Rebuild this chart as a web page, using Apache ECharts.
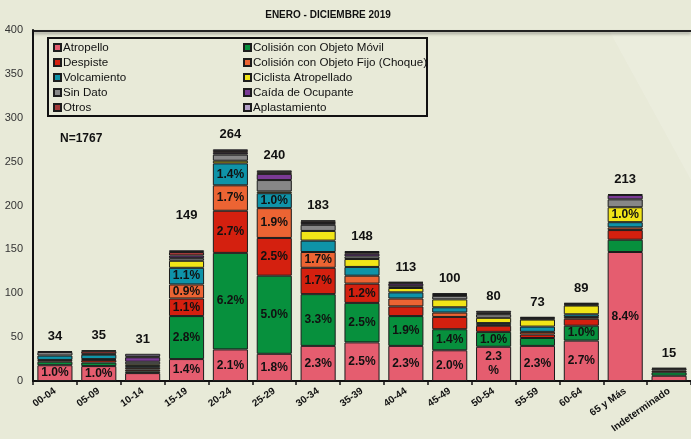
<!DOCTYPE html>
<html>
<head>
<meta charset="utf-8">
<script src="https://cdn.jsdelivr.net/npm/echarts@6/dist/echarts.min.js"></script>
<style>
  html, body { margin: 0; padding: 0; background: #e8ead8; }
  #chart { width: 691px; height: 439px; }
</style>
</head>
<body>
<div id="chart"></div>
<script>
// Accidentes por grupo de edad, enero - diciembre 2019 (N=1767)
const categorias = ['00-04', '05-09', '10-14', '15-19', '20-24', '25-29', '30-34', '35-39',
  '40-44', '45-49', '50-54', '55-59', '60-64', '65 y Más', 'Indeterminado'];

const atropello     = [18, 17, 9, 25, 36, 31, 40, 44, 40, 35, 39, 40, 46, 147, 6];
const colMovil      = [4, 4, 2, 49, 110, 89, 59, 45, 34, 24, 17, 9, 17, 14, 4];
const despiste      = [2, 3, 2, 20, 48, 43, 30, 22, 11, 14, 7, 4, 8, 11, 2];
const colFijo       = [0, 1, 2, 16, 29, 34, 18, 9, 9, 5, 1, 3, 2, 3, 0];
const volcamiento   = [5, 5, 2, 19, 25, 17, 13, 10, 7, 6, 2, 6, 3, 6, 0];
const ciclista      = [0, 0, 2, 8, 3, 2, 11, 9, 5, 9, 6, 8, 10, 17, 0];
const sinDato       = [4, 1, 3, 3, 7, 13, 7, 3, 2, 4, 4, 1, 1, 9, 2];
const caida         = [0, 0, 5, 3, 2, 7, 2, 3, 3, 1, 1, 1, 1, 5, 0];
const otros         = [1, 3, 1, 4, 2, 2, 2, 2, 1, 1, 1, 1, 1, 1, 1];
const aplastamiento = [0, 1, 3, 2, 2, 2, 1, 1, 1, 1, 2, 0, 0, 0, 0];

const totales = [34, 35, 31, 149, 264, 240, 183, 148, 113, 100, 80, 73, 89, 213, 15];

// etiquetas % dentro de los segmentos ('' = sin etiqueta)
const pctAtropello = ['1.0%', '1.0%', '', '1.4%', '2.1%', '1.8%', '2.3%', '2.5%', '2.3%', '2.0%', '2.3\n%', '2.3%', '2.7%', '8.4%', ''];
const pctMovil     = ['', '', '', '2.8%', '6.2%', '5.0%', '3.3%', '2.5%', '1.9%', '1.4%', '1.0%', '', '1.0%', '', ''];
const pctDespiste  = ['', '', '', '1.1%', '2.7%', '2.5%', '1.7%', '1.2%', '', '', '', '', '', '', ''];
const pctFijo      = ['', '', '', '0.9%', '1.7%', '1.9%', '1.7%', '', '', '', '', '', '', '', ''];
const pctVolc      = ['', '', '', '1.1%', '1.4%', '1.0%', '', '', '', '', '', '', '', '', ''];
const pctCiclista  = ['', '', '', '', '', '', '', '', '', '', '', '', '', '1.0%', ''];

const FONT = '"Liberation Sans", Arial, sans-serif';
const NARROW = '"Liberation Sans Narrow", "Liberation Sans", Arial, sans-serif';

const series = [
  ['Atropello', atropello, '#e55d6f', pctAtropello],
  ['Colisión con Objeto Móvil', colMovil, '#07903d', pctMovil],
  ['Despiste', despiste, '#d4200f', pctDespiste],
  ['Colisión con Objeto Fijo (Choque)', colFijo, '#ec6433', pctFijo],
  ['Volcamiento', volcamiento, '#0f93a8', pctVolc],
  ['Ciclista Atropellado', ciclista, '#f1e518', pctCiclista],
  ['Sin Dato', sinDato, '#878787', null],
  ['Caída de Ocupante', caida, '#7a3a95', null],
  ['Otros', otros, '#a23a3a', null],
  ['Aplastamiento', aplastamiento, '#b3a0c8', null],
];

function stackBar(name, data, color, pct) {
  return {
    name,
    type: 'bar',
    stack: 'edad',
    // los ceros no se pintan (si no, el borde deja una raya negra)
    data: data.map((v) => (v === 0 ? '-' : v)),
    barCategoryGap: '20%',
    itemStyle: { color, borderColor: '#1c1c1c', borderWidth: 1 },
    label: pct ? {
      show: true,
      position: 'inside',
      color: '#111',
      fontFamily: NARROW,
      fontWeight: 'bold',
      fontSize: 12,
      lineHeight: 14,
      formatter: (p) => pct[p.dataIndex],
    } : { show: false },
    emphasis: { disabled: true },
  };
}

// serie vacía encima del stack solo para poner el total
const totalSerie = {
  name: 'Total',
  type: 'bar',
  stack: 'edad',
  data: totales.map((_, i) => ({
    value: 0,
    label: { distance: categorias[i] === '15-19' ? 28 : 8 },
  })),
  itemStyle: { color: 'transparent', borderWidth: 0 },
  label: {
    show: true,
    position: 'top',
    color: '#111',
    fontFamily: FONT,
    fontWeight: 'bold',
    fontSize: 13,
    formatter: (p) => String(totales[p.dataIndex]),
  },
  emphasis: { disabled: true },
};

const legendCommon = {
  orient: 'vertical',
  top: 40,
  padding: 0,
  itemGap: 0,
  itemWidth: 7,
  itemHeight: 7,
  icon: 'rect',
  selectedMode: false,
  textStyle: { color: '#111', fontFamily: FONT, fontSize: 11.6, lineHeight: 15, padding: [0, 0, 0, -3] },
};

const chart = echarts.init(document.getElementById('chart'), null, { renderer: 'canvas' });
chart.setOption({
  backgroundColor: '#e8ead8',
  animation: false,
  title: {
    text: 'ENERO - DICIEMBRE 2019',
    left: 323,
    top: 5,
    textAlign: 'center',
    textStyle: { color: '#111', fontFamily: FONT, fontWeight: 'bold', fontSize: 10 },
  },
  graphic: [
    {
      type: 'polygon',
      silent: true,
      z: -10,
      shape: { points: [[610, 32], [691, 32], [691, 180]] },
      style: { fill: 'rgba(255,255,255,0.14)' },
    },
    {
      type: 'line',
      silent: true,
      shape: { x1: 33, y1: 31, x2: 691, y2: 31 },
      style: { stroke: '#222', lineWidth: 2, shadowColor: 'rgba(0,0,0,0.35)', shadowBlur: 3, shadowOffsetY: 2 },
    },
    {
      type: 'rect',
      silent: true,
      shape: { x: 48, y: 38, width: 379, height: 78 },
      style: { fill: 'transparent', stroke: '#111', lineWidth: 2 },
    },
    {
      type: 'text',
      left: 60,
      top: 133,
      style: { text: 'N=1767', fill: '#111', font: 'bold 12px ' + FONT },
    },
  ],
  legend: [
    { ...legendCommon, left: 53, data: series.filter((_, i) => i % 2 === 0).map((s) => s[0]) },
    { ...legendCommon, left: 243, data: series.filter((_, i) => i % 2 === 1).map((s) => s[0]) },
  ],
  grid: { left: 33, top: 30, width: 663, bottom: 58 },
  xAxis: {
    type: 'category',
    data: categorias,
    axisLine: { lineStyle: { color: '#111', width: 2 } },
    axisTick: { show: true, length: 4, lineStyle: { color: '#111', width: 1.5 } },
    axisLabel: {
      interval: 0,
      rotate: 35,
      margin: 9,
      color: '#111',
      fontFamily: FONT,
      fontWeight: 'bold',
      fontSize: 10,
    },
  },
  yAxis: {
    type: 'value',
    min: 0,
    max: 400,
    interval: 50,
    axisLine: { show: true, lineStyle: { color: '#111', width: 2 } },
    axisTick: { show: false },
    splitLine: { show: false },
    axisLabel: { color: '#333', fontFamily: FONT, fontSize: 11, margin: 10 },
  },
  series: [...series.map((s) => stackBar(s[0], s[1], s[2], s[3])), totalSerie],
});
</script>
</body>
</html>
